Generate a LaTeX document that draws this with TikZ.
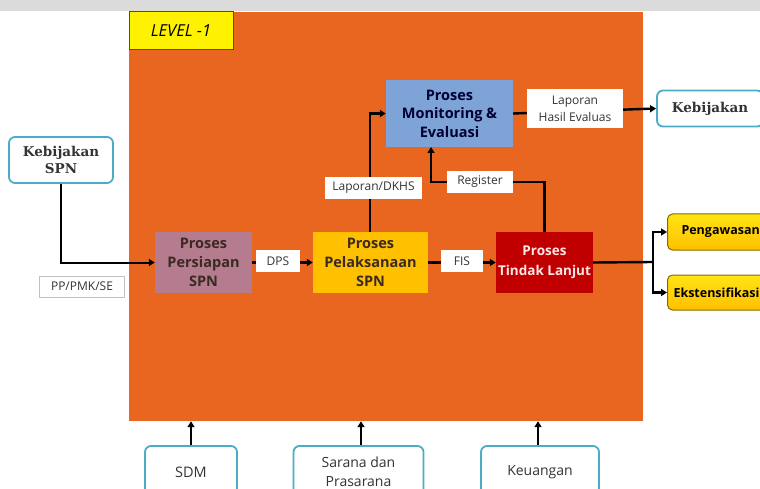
\documentclass[tikz,border=0pt]{standalone}
\usepackage{fontspec}
\setmainfont{Open Sans}
\newfontfamily\kebfont{DejaVu Serif}
\usetikzlibrary{arrows.meta}
\definecolor{levelorange}{HTML}{E8661F}
\definecolor{prepmauve}{HTML}{B47C8E}
\definecolor{execgold}{HTML}{FFC000}
\definecolor{followred}{HTML}{C00000}
\definecolor{monblue}{HTML}{7EA3D6}
\definecolor{tealedge}{HTML}{4BACC6}
\definecolor{outyellow}{HTML}{FFD21F}
\definecolor{outedge}{HTML}{8A6A00}
\definecolor{inktext}{HTML}{3A2A22}

\begin{document}
\begin{tikzpicture}[x=1pt,y=1pt]
\tikzstyle{every node}+=[inner sep=0pt, align=center]
\tikzstyle{procbox}=[rectangle, minimum height=61, text=inktext, font=\fontsize{14.5}{19}\selectfont\bfseries]
\tikzstyle{tagbox}=[rectangle, fill=white, minimum height=22, text=black!80, font=\fontsize{12}{15}\selectfont]
\tikzstyle{srcbox}=[rectangle, rounded corners=6, draw=tealedge, line width=1.8, fill=white, text=black!80]
\tikzstyle{outbox}=[rectangle, rounded corners=5, draw=outedge, line width=1, top color=outyellow!60!yellow, bottom color=execgold, minimum height=36, anchor=west, align=left, font=\fontsize{12.5}{15}\selectfont\bfseries]
\tikzstyle{flow}=[black, line width=2.4, -{Triangle[length=6pt,width=7pt]}]
\useasboundingbox (0,0) rectangle (760,-489);
\clip (0,0) rectangle (760,-489);
\fill [black!14] (0,0) rectangle (760,-11);
% level box
\node (level) [rectangle, fill=levelorange, minimum width=514, minimum height=409] at (386,-216.5) {};
\node (levtag) [rectangle, fill=yellow, draw=black!70, line width=1, minimum width=104, minimum height=38, font=\fontsize{16.5}{18}\selectfont\itshape] at (181,-31) {LEVEL -1};
% processes
\node (prep) [procbox, fill=prepmauve, minimum width=97] at (203.5,-262.5) {Proses\\Persiapan\\SPN};
\node (exec) [procbox, fill=execgold, minimum width=115] at (370.5,-262.5) {Proses\\Pelaksanaan\\SPN};
\node (follow) [procbox, fill=followred, minimum width=97, text=white!90!red, font=\fontsize{13.5}{20}\selectfont\bfseries] at (544.5,-262.5) {Proses\\Tindak Lanjut};
\node (monev) [procbox, fill=monblue, minimum width=127, minimum height=67, text=black!80!blue, font=\fontsize{14.5}{18.5}\selectfont\bfseries] at (449.5,-113.5) {Proses\\Monitoring \&\\Evaluasi};
% sources and outputs
\node (kebspn) [srcbox, minimum width=104, minimum height=46, font=\kebfont\fontsize{13.5}{17}\selectfont\bfseries] at (61,-160) {Kebijakan\\SPN};
\node (keb) [srcbox, minimum width=106, minimum height=36, font=\kebfont\fontsize{13.5}{16}\selectfont\bfseries] at (710,-108.5) {Kebijakan};
\node (pengawasan) [outbox, inner xsep=14, text width=100] at (667,-232) {Pengawasan};
\node (ekstensi) [outbox, inner xsep=6, text width=108, minimum height=35] at (667,-292.5) {Ekstensifikasi};
\node (sdm) [srcbox, minimum width=92, minimum height=52, font=\fontsize{14.5}{19}\selectfont] at (191,-472) {SDM};
\node (sarana) [srcbox, minimum width=130, minimum height=52, font=\fontsize{14}{19}\selectfont] at (358.5,-472) {Sarana dan\\Prasarana};
\node (uang) [srcbox, minimum width=118, minimum height=52, font=\fontsize{14}{19}\selectfont] at (540,-472) {Keuangan};
\coordinate (split) at (653,-262);
\coordinate (monin) at (431,-147);
% connectors
\draw [flow, line width=2] (kebspn.south) |- (prep.west);
\draw [flow] (prep.east) -- (exec.west);
\draw [flow] (exec.east) -- (follow.west);
\draw [flow] ([xshift=-0.5]exec.north) |- (monev.west);
\draw [flow] (follow.north) |- (monin |- 0,-182) -- (monin);
\draw [flow] (monev.east) -- (keb.west);
\draw [black, line width=2.4] (follow.east) -- (split);
\draw [flow] (split) |- (pengawasan.west);
\draw [flow] (split) |- (ekstensi.west);
\draw [flow] (sdm.north) -- (sdm.north |- level.south);
\draw [flow] ([xshift=2.5]sarana.north) -- ([xshift=2.5]sarana.north |- level.south);
\draw [flow] ([xshift=-2]uang.north) -- ([xshift=-2]uang.north |- level.south);
% tags on the lines
\node (pptag) [tagbox, draw=black!25, line width=0.6, minimum width=85, minimum height=21] at (82,-286.5) {PP/PMK/SE};
\node (dps) [tagbox, minimum width=44] at (278,-261) {DPS};
\node (fis) [tagbox, minimum width=42] at (462,-261) {FIS};
\node (dkhs) [tagbox, minimum width=97] at (373.5,-188) {Laporan/DKHS};
\node (register) [tagbox, minimum width=66] at (480,-182) {Register};
\node (lhe) [tagbox, minimum width=96, minimum height=39, font=\fontsize{12}{17}\selectfont] at (575,-108.5) {Laporan\\Hasil Evaluas};
\end{tikzpicture}
\end{document}
